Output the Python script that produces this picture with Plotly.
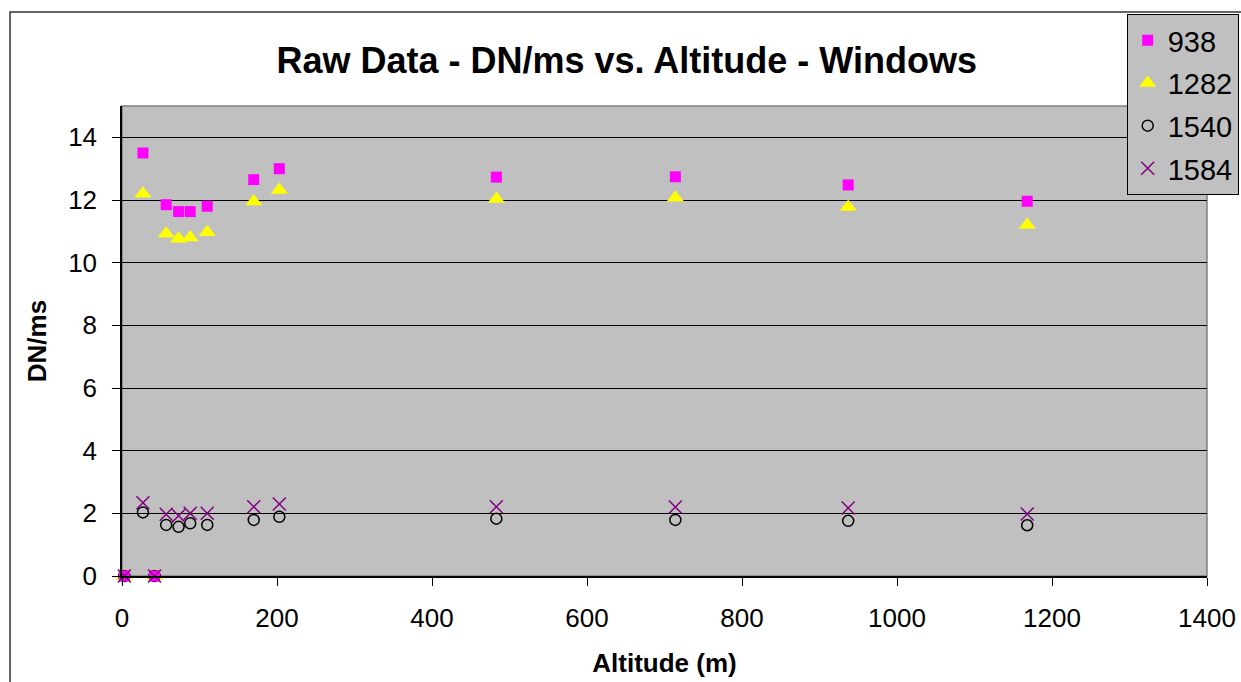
import plotly.graph_objects as go

# Altitude (m) and DN/ms for each wavelength channel
altitude = [3, 27, 42, 57, 73, 88, 110, 170, 203, 483, 714, 937, 1168]
dn_938 = [0.0, 13.5, 0.0, 11.85, 11.63, 11.63, 11.8, 12.65, 13.0, 12.73, 12.74, 12.48, 11.96]
dn_1282 = [0.0, 12.2, 0.0, 10.92, 10.76, 10.8, 10.97, 11.95, 12.32, 12.03, 12.07, 11.78, 11.2]
dn_1540 = [0.0, 2.03, 0.0, 1.63, 1.57, 1.68, 1.63, 1.79, 1.89, 1.83, 1.79, 1.76, 1.62]
dn_1584 = [0.0, 2.34, 0.0, 1.97, 1.92, 2.0, 2.0, 2.21, 2.3, 2.21, 2.2, 2.17, 1.98]

FONT = "Liberation Sans, Arial, sans-serif"

# (name, values, marker, legend position) -- drawn in this order so the
# squares and crosses sit on top where everything meets at zero
series = [
    ("1282", dn_1282, dict(symbol="triangle-up", size=15, color="#FFFF00"), 2),
    ("1540", dn_1540, dict(symbol="circle-open", size=11, color="black",
                           line=dict(width=1.5, color="black")), 3),
    ("938", dn_938, dict(symbol="square", size=11, color="#FF00FF"), 1),
    ("1584", dn_1584, dict(symbol="x-thin-open", size=13, color="#800080",
                           line=dict(width=1.5, color="#800080")), 4),
]

fig = go.Figure()
for name, vals, marker, rank in series:
    fig.add_trace(go.Scatter(
        x=altitude, y=vals, mode="markers", name=name,
        marker=marker, legendgroup=name, legendrank=rank, cliponaxis=False,
    ))

# plot-area frame (gray) and outer chart border
fig.add_shape(type="rect", xref="paper", yref="paper", x0=0, x1=1, y0=0, y1=1,
              line=dict(color="#808080", width=1.5), layer="below")
fig.add_shape(type="rect", xref="paper", yref="paper",
              x0=-0.1032, x1=1.08, y0=-0.3, y1=1.2,
              line=dict(color="#333333", width=1.5))

fig.update_layout(
    width=1241, height=682,
    margin=dict(l=122, r=34, t=106, b=106, autoexpand=False),
    paper_bgcolor="white",
    plot_bgcolor="#C0C0C0",
    font=dict(family=FONT, size=26, color="black"),
    title=dict(text="<b>Raw Data - DN/ms vs. Altitude - Windows</b>",
               x=0.505, xanchor="center", xref="container", y=0.912, yanchor="middle",
               font=dict(size=36, family=FONT)),
    legend=dict(x=0.926, y=1.196, xanchor="left", yanchor="top",
                bgcolor="#C0C0C0", bordercolor="black", borderwidth=1,
                font=dict(size=29, family=FONT), tracegroupgap=2,
                itemsizing="trace"),
    showlegend=True,
)
fig.update_xaxes(
    range=[0, 1400], dtick=200, tick0=0, showgrid=False, zeroline=False,
    showline=True, linecolor="black", linewidth=1.5,
    ticks="outside", ticklen=8, tickcolor="black", ticklabelstandoff=10,
    title=dict(text="<b>Altitude (m)</b>", font=dict(size=26, family=FONT), standoff=22),
)
fig.update_yaxes(
    range=[0, 15], dtick=2, tick0=0, showgrid=True, gridcolor="black", gridwidth=1,
    zeroline=False, showline=True, linecolor="black", linewidth=1.5,
    ticks="outside", ticklen=8, tickcolor="black", ticklabelstandoff=10,
    title=dict(text="<b>DN/ms</b>", font=dict(size=26, family=FONT), standoff=14),
)

# drop the default page margin so the figure fills the window exactly
fig.write_html(
    "out.html",
    config={"displayModeBar": False},
    post_script="document.body.style.margin='0';document.body.style.overflow='hidden';",
)
